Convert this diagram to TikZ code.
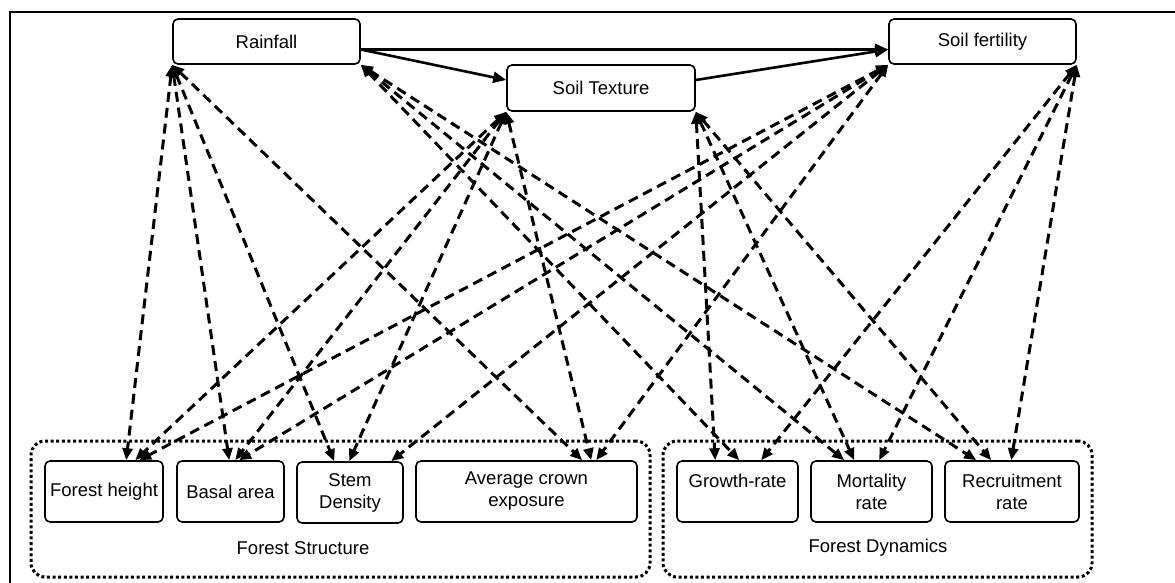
\documentclass[tikz,border=0pt]{standalone}
\usepackage{fontspec}
\setmainfont{Liberation Sans}
\usetikzlibrary{arrows.meta}
\begin{document}
\begin{tikzpicture}[x=1pt,y=-1pt,
  box/.style={draw, line width=1.6pt, rounded corners=5pt, inner sep=0pt,
    font=\fontsize{18.5}{22}\selectfont, align=center},
  solidarrow/.style={line width=2.6pt, -{Triangle[length=13pt,width=11pt]}},
  dasharrow/.style={line width=3pt, dash pattern=on 10pt off 6pt,
    {Triangle[length=12pt,width=10pt]}-{Triangle[length=12pt,width=10pt]}},
  grp/.style={draw, line width=3pt, dash pattern=on 3pt off 2.6pt, rounded corners=14pt},
  grplabel/.style={font=\fontsize{18.5}{22}\selectfont, inner sep=0pt}]
\useasboundingbox (0,0) rectangle (1175,583);
% outer frame
\draw[line width=1.6pt] (10,583) -- (10,12) -- (1175,12);

% groups
\node[grp, minimum width=619pt, minimum height=136pt, inner sep=0pt] (gs) at (340.5,509) {};
\node[grp, minimum width=429pt, minimum height=136pt, inner sep=0pt] (gd) at (877.5,509) {};
\node[grplabel] (gsl) at (303,548) {Forest Structure};
\node[grplabel] (gdl) at (878,548) {Forest Dynamics};

% top nodes
\node[box, minimum width=187pt, minimum height=45pt] (rain) at (266.5,41.5) {Rainfall};
\node[box, minimum width=188pt, minimum height=46pt] (st) at (601,88) {Soil Texture};
\node[box, minimum width=187pt, minimum height=45pt] (sf) at (982.5,41.5) {Soil fertility};

% bottom nodes
\node[box, minimum width=118pt, minimum height=61pt] (fh) at (104,491.5) {Forest height};
\node[box, minimum width=107pt, minimum height=61pt] (ba) at (230.5,491.5) {Basal area};
\node[box, minimum width=106pt, minimum height=61pt] (sd) at (350,492.5) {Stem\\Density};
\node[box, minimum width=221pt, minimum height=61pt] (ace) at (526.5,491.5) {Average crown\\exposure};
\node[box, minimum width=121pt, minimum height=61pt] (gr) at (737.5,491.5) {Growth-rate\\\mbox{}};
\node[box, minimum width=121pt, minimum height=61pt] (mr) at (871.5,491.5) {Mortality\\rate};
\node[box, minimum width=134pt, minimum height=61pt] (rr) at (1012,491.5) {Recruitment\\rate};

% solid arrows
\draw[solidarrow] ([yshift=-8pt]rain.east) -- ([yshift=-8pt]sf.west);
\draw[solidarrow] ([yshift=-8pt]rain.east) -- ([yshift=8pt]st.west);
\draw[solidarrow] ([yshift=8pt]st.east) -- ([yshift=-8pt]sf.west);

% dashed arrows: Rainfall
\draw[dasharrow] (rain.south west) -- ([xshift=82pt]fh.north west);
\draw[dasharrow] (rain.south west) -- ([xshift=53pt]ba.north west);
\draw[dasharrow] (rain.south west) -- ([xshift=38pt]sd.north west);
\draw[dasharrow] (rain.south west) -- ([xshift=167pt]ace.north west);
\draw[dasharrow] (rain.south east) -- ([xshift=63pt]gr.north west);
\draw[dasharrow] (rain.south east) -- ([xshift=34pt]mr.north west);
\draw[dasharrow] (rain.south east) -- ([xshift=32pt]rr.north west);
% Soil Texture
\draw[dasharrow] (st.south west) -- ([xshift=91pt]fh.north west);
\draw[dasharrow] (st.south west) -- ([xshift=59pt]ba.north west);
\draw[dasharrow] (st.south west) -- ([xshift=53pt]sd.north west);
\draw[dasharrow] (st.south west) -- ([xshift=176pt]ace.north west);
\draw[dasharrow] (st.south east) -- ([xshift=39pt]gr.north west);
\draw[dasharrow] (st.south east) -- ([xshift=44pt]mr.north west);
\draw[dasharrow] (st.south east) -- ([xshift=47pt]rr.north west);
% Soil fertility
\draw[dasharrow] (sf.south west) -- ([xshift=95pt]fh.north west);
\draw[dasharrow] (sf.south west) -- ([xshift=63pt]ba.north west);
\draw[dasharrow] (sf.south west) -- ([xshift=95pt]sd.north west);
\draw[dasharrow] (sf.south west) -- ([xshift=181pt]ace.north west);
\draw[dasharrow] (sf.south east) -- ([xshift=85pt]gr.north west);
\draw[dasharrow] (sf.south east) -- ([xshift=69pt]mr.north west);
\draw[dasharrow] (sf.south east) -- ([xshift=67pt]rr.north west);
\end{tikzpicture}
\end{document}
